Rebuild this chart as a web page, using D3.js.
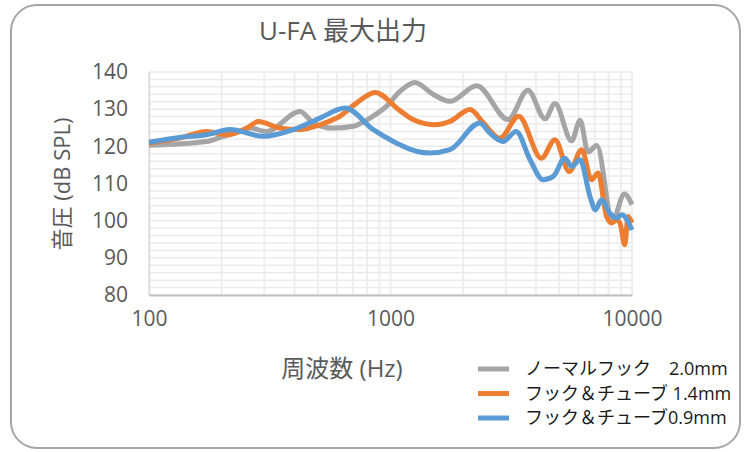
<!DOCTYPE html>
<html>
<head>
<meta charset="utf-8">
<script src="https://cdn.jsdelivr.net/npm/d3@7/dist/d3.min.js"></script>
<style>
  body { margin: 0; background: #fff; }
  text { font-family: "Open Sans", "Noto Sans CJK JP", sans-serif; fill: #595959; }
</style>
</head>
<body>
<div id="chart"></div>
<script>
// Data (frequency in Hz, level in dB SPL)
const titleText = "U-FA 最大出力";
const xTicks = [100, 1000, 10000];
const yTicks = [80, 90, 100, 110, 120, 130, 140];
const seriesNames = ["ノーマルフック　2.0mm", "フック＆チューブ 1.4mm", "フック＆チューブ0.9mm"];
const seriesColors = ["#a5a5a5", "#ed7d31", "#5b9bd5"];

const normalFreq = [100, 173, 203, 238, 262, 307, 422, 479, 578, 702, 822, 964, 1094, 1262, 1500, 1763, 2276, 3069, 3707, 4365, 4797, 5624, 6095, 6577, 7150, 8300, 9300, 10000];
const normalDb   = [120.3, 121.3, 122.7, 124, 124.9, 124, 129.4, 126.3, 124.9, 125.4, 127.6, 130.8, 134.8, 137.2, 134, 132.1, 136.3, 127.2, 135.1, 127.4, 131.5, 121.5, 127, 118.5, 120.2, 100, 107.2, 104.3];

const tube14Freq = [100, 134, 173, 210, 254, 284, 348, 422, 510, 618, 725, 863, 1094, 1239, 1523, 1763, 2136, 2420, 2838, 3393, 4218, 4797, 5500, 6190, 6800, 7240, 7850, 8240, 8640, 8910, 9330, 9630, 10000];
const tube14Db   = [120.9, 122.2, 124, 123.1, 124.9, 126.7, 124.9, 124.5, 125.8, 128.1, 131.7, 134.5, 129.6, 127.2, 125.8, 126.7, 129.9, 126.4, 122.2, 128.1, 116.8, 121.8, 113.2, 119.1, 111, 112.8, 101.1, 99.4, 100.2, 99.4, 93.5, 101.1, 99.4];

const tube09Freq = [100, 134, 173, 216, 297, 396, 510, 649, 849, 1028, 1094, 1290, 1456, 1763, 2346, 2577, 2928, 3311, 3784, 4282, 4720, 5270, 5624, 6095, 6700, 7050, 7480, 8100, 8640, 9060, 10000];
const tube09Db   = [121.1, 122.4, 123.1, 124.5, 122.7, 124.5, 127.6, 130.3, 124.5, 121.3, 120.4, 118.6, 118.2, 119.1, 126.3, 123.6, 121.3, 124, 116.4, 111, 111.9, 116.8, 114.6, 116.4, 106.5, 102.9, 105.6, 102, 100.7, 101.6, 97.5];

const series = [
    {name: seriesNames[0], color: seriesColors[0], freq: normalFreq, db: normalDb},
    {name: seriesNames[1], color: seriesColors[1], freq: tube14Freq, db: tube14Db},
    {name: seriesNames[2], color: seriesColors[2], freq: tube09Freq, db: tube09Db}
];

const W = 744, H = 452;
const margin = {top: 72, left: 149, right: 744 - 632, bottom: 452 - 295};
const width = W - margin.left - margin.right;
const height = H - margin.top - margin.bottom;

const root = d3.select("#chart").append("svg")
    .attr("width", W)
    .attr("height", H);

// outer rounded frame
root.append("rect")
    .attr("x", 11).attr("y", 5)
    .attr("width", 729).attr("height", 443)
    .attr("rx", 26).attr("ry", 26)
    .attr("fill", "#fff")
    .attr("stroke", "#a6a6a6")
    .attr("stroke-width", 2);

root.append("text")
    .attr("x", 343).attr("y", 40)
    .attr("text-anchor", "middle")
    .style("font-size", "26px")
    .text(titleText);

const svg = root.append("g")
    .attr("transform", `translate(${margin.left},${margin.top})`);

const x = d3.scaleLog().domain([100, 10000]).range([0, width]);
const y = d3.scaleLinear().domain([80, 140]).range([height, 0]);

// gridlines
const minorX = x.ticks();
svg.append("g").selectAll("line")
    .data(minorX)
    .enter().append("line")
    .attr("x1", d => x(d)).attr("x2", d => x(d))
    .attr("y1", 0).attr("y2", height)
    .attr("stroke", "#eeeeee")
    .attr("stroke-width", 2);

svg.append("g").selectAll("line")
    .data(d3.range(80, 141, 2))
    .enter().append("line")
    .attr("x1", 0).attr("x2", width)
    .attr("y1", d => y(d)).attr("y2", d => y(d))
    .attr("stroke", "#ebebeb")
    .attr("stroke-width", 1.5);

// axes
const yAxis = svg.append("g")
    .call(d3.axisLeft(y).tickValues(yTicks).tickSize(0).tickPadding(21).tickFormat(d3.format("d")));
yAxis.select(".domain").attr("stroke", "#d9d9d9").attr("stroke-width", 1.5);
yAxis.selectAll("text").style("font-size", "21px").attr("fill", "#595959");

const xAxis = svg.append("g")
    .attr("transform", `translate(0,${height})`)
    .call(d3.axisBottom(x).tickValues(xTicks).tickSize(0).tickPadding(16).tickFormat(d3.format("d")));
xAxis.select(".domain").attr("stroke", "#bfbfbf").attr("stroke-width", 2);
xAxis.selectAll("text").style("font-size", "21px").attr("fill", "#595959");

// axis titles
root.append("text")
    .attr("transform", "translate(70,184) rotate(-90)")
    .attr("text-anchor", "middle")
    .style("font-size", "22px")
    .text("音圧 (dB SPL)");

root.append("text")
    .attr("x", 342).attr("y", 377)
    .attr("text-anchor", "middle")
    .style("font-size", "24px")
    .text("周波数 (Hz)");

// lines
const line = d3.line()
    .x(d => x(d[0]))
    .y(d => y(d[1]))
    .curve(d3.curveMonotoneX);

series.forEach(s => {
    const pts = s.freq.map((f, i) => [f, s.db[i]]);
    svg.append("path")
        .datum(pts)
        .attr("d", line)
        .attr("fill", "none")
        .attr("stroke", s.color)
        .attr("stroke-width", 5)
        .attr("stroke-linejoin", "round");
});

// legend
const legend = root.selectAll(".legend")
    .data(series)
    .enter().append("g")
    .attr("class", "legend")
    .attr("transform", (d, i) => `translate(478,${369 + i * 24.5})`);

legend.append("line")
    .attr("x1", 0).attr("x2", 31)
    .attr("stroke", d => d.color)
    .attr("stroke-width", 5);

legend.append("text")
    .attr("x", 47)
    .attr("dy", "0.35em")
    .style("font-size", "18px")
    .style("fill", "#1a1a1a")
    .text(d => d.name);
</script>
</body>
</html>
